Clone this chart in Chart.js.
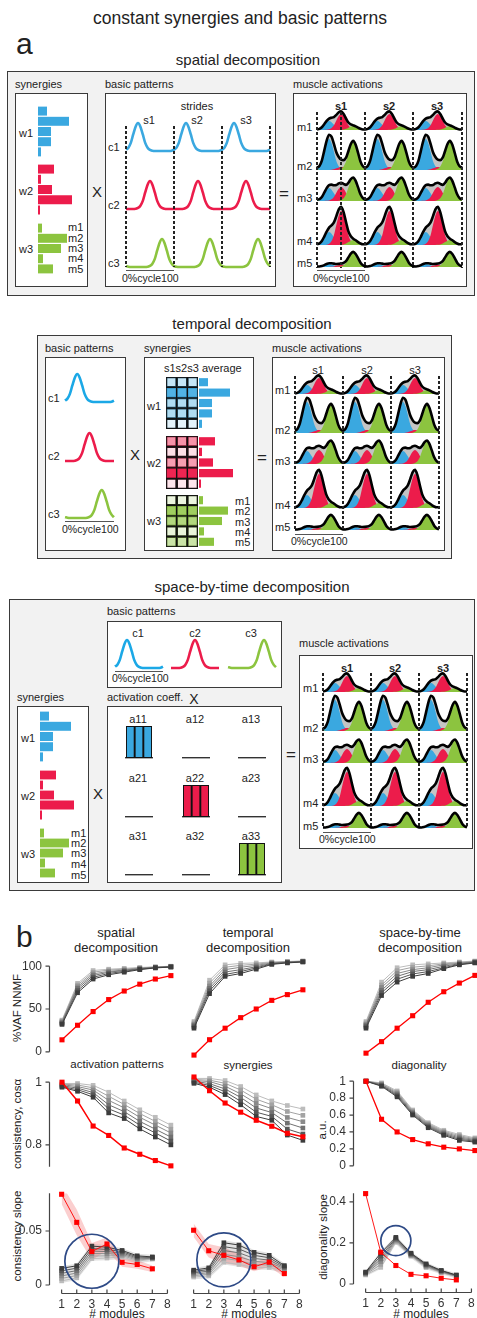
<!DOCTYPE html>
<html>
<head>
<meta charset="utf-8">
<script src="https://cdn.jsdelivr.net/npm/chart.js@4.4.1/dist/chart.umd.min.js"></script>
<style>
body { margin: 0; background: #fff; overflow: hidden; }
#page { position: relative; width: 477px; height: 1318px; overflow: hidden; font-family: "Liberation Sans", Arial, sans-serif; color: #222; }
#page canvas { position: absolute; }
.t { position: absolute; white-space: nowrap; line-height: 1; }
.box { position: absolute; box-sizing: border-box; }
</style>
</head>
<body>
<div id="page"></div>
<script>
"use strict";

// ---------- panel a data ----------
const muscles = ['m1', 'm2', 'm3', 'm4', 'm5'];
const strides = ['s1', 's2', 's3'];
const synW1 = [9, 31, 13, 13, 3];
const synW2 = [16, 3, 14, 34, 2];
const synW3 = [4, 29, 23, 5, 15];
// one stride, sampled every 5% of the cycle
const patC1 = [0.05, 0.12, 0.29, 0.59, 0.87, 1, 0.87, 0.59, 0.29, 0.12, 0.04, 0.01, 0, 0, 0, 0, 0, 0, 0, 0.01];
const patC2 = [0, 0, 0, 0, 0.01, 0.04, 0.12, 0.29, 0.59, 0.87, 1, 0.87, 0.59, 0.29, 0.12, 0.04, 0.01, 0, 0, 0];
const patC3 = [0.03, 0.01, 0, 0, 0, 0, 0, 0, 0, 0.01, 0.04, 0.12, 0.29, 0.59, 0.87, 1, 0.87, 0.59, 0.29, 0.12];
const residual = [0, 0, 0.05, 0.15, 0.35, 0.6, 0.85, 1, 1, 0.9, 0.7, 0.5, 0.3, 0.15, 0.05, 0, 0, 0, 0, 0];
const residualAmp = [3, 7, 4, 5, 1];
const coeff = [[1, 0, 0], [0, 1, 0], [0, 0, 1]];

// ---------- panel b data ----------
const modules = [1, 2, 3, 4, 5, 6, 7, 8];
const vafSpatialRed = [14, 31, 47, 61, 71, 79, 85, 89];
const vafSpatialGray = [
  [37, 80, 95, 96.5, 97.5, 98.5, 99.2, 100],
  [36, 78, 93, 95.5, 96.5, 98, 99, 99.8],
  [35, 76, 91, 94, 95.5, 97.5, 98.8, 99.6],
  [34, 74, 89, 93, 95, 97, 98.5, 99.4],
  [33, 71.5, 87, 91.5, 94, 96.5, 98.2, 99.2],
  [32, 69, 85, 90, 93, 96, 98, 99]
];
const vafTemporalRed = [2, 18, 30, 41, 50, 59, 65, 70];
const vafTemporalGray = [
  [37, 80, 96, 97.5, 98, 99, 99.5, 100],
  [35.5, 77, 93.5, 95.5, 96.7, 98.5, 99.2, 99.8],
  [34, 74, 91, 93.5, 95.4, 98, 99, 99.6],
  [33, 71.5, 88.5, 91, 94, 97.5, 98.7, 99.4],
  [31.5, 69, 86, 89, 92.8, 97, 98.4, 99.2],
  [30, 66, 84, 87, 91.5, 96.5, 98, 99]
];
const vafSbtRed = [4, 16, 30, 43, 57, 68, 77, 85];
const vafSbtGray = [
  [37, 78, 93, 96, 97, 98, 99, 100],
  [35.5, 75, 90, 93.5, 95, 97, 98.4, 99.6],
  [34, 72.5, 87, 91, 93, 96, 97.8, 99.2],
  [33, 69.5, 84, 89, 91, 94.5, 97.2, 98.8],
  [31.5, 67, 81, 86.5, 89, 93, 96.6, 98.4],
  [30, 64, 78, 84, 87, 92, 96, 98]
];
const consActRed = [1.0, 0.94, 0.86, 0.83, 0.79, 0.77, 0.75, 0.733];
const consActGray = [
  [0.996, 0.996, 0.990, 0.968, 0.940, 0.912, 0.888, 0.863],
  [0.994, 0.991, 0.982, 0.955, 0.929, 0.900, 0.875, 0.850],
  [0.992, 0.986, 0.975, 0.942, 0.918, 0.888, 0.863, 0.838],
  [0.989, 0.981, 0.967, 0.928, 0.906, 0.875, 0.850, 0.825],
  [0.986, 0.976, 0.960, 0.915, 0.895, 0.863, 0.838, 0.812],
  [0.984, 0.971, 0.952, 0.902, 0.884, 0.851, 0.825, 0.800]
];
const consSynRed = [1.0, 0.961, 0.926, 0.90, 0.877, 0.86, 0.84, 0.83];
const consSynGray = [
  [0.996, 0.996, 0.990, 0.973, 0.949, 0.932, 0.919, 0.909],
  [0.993, 0.991, 0.982, 0.963, 0.937, 0.921, 0.902, 0.891],
  [0.990, 0.987, 0.974, 0.952, 0.925, 0.910, 0.885, 0.873],
  [0.988, 0.981, 0.966, 0.942, 0.912, 0.899, 0.869, 0.855],
  [0.985, 0.976, 0.958, 0.931, 0.900, 0.888, 0.852, 0.838],
  [0.982, 0.971, 0.950, 0.921, 0.888, 0.877, 0.835, 0.820]
];
const diagRed = [1.0, 0.55, 0.40, 0.31, 0.26, 0.22, 0.20, 0.18];
const diagGray = [
  [1, 0.980, 0.885, 0.660, 0.510, 0.420, 0.370, 0.33],
  [1, 0.972, 0.871, 0.648, 0.498, 0.408, 0.356, 0.32],
  [1, 0.964, 0.857, 0.636, 0.486, 0.396, 0.342, 0.31],
  [1, 0.956, 0.843, 0.624, 0.474, 0.384, 0.328, 0.30],
  [1, 0.948, 0.829, 0.612, 0.462, 0.372, 0.314, 0.29],
  [1, 0.940, 0.815, 0.600, 0.450, 0.360, 0.300, 0.28]
];
const slopeActRed = [0.084, 0.058, 0.031, 0.038, 0.021, 0.019, 0.015];
const slopeActErr = [0.009, 0.012, 0.008, 0.006, 0.004, 0.004, 0.003];
const slopeActGray = [
  [0.0038, 0.0066, 0.0245, 0.025, 0.026, 0.022, 0.024],
  [0.0061, 0.0088, 0.0268, 0.027, 0.0272, 0.023, 0.0244],
  [0.0084, 0.0111, 0.0291, 0.029, 0.0284, 0.024, 0.0248],
  [0.0108, 0.0133, 0.0314, 0.031, 0.0296, 0.025, 0.0252],
  [0.0131, 0.0156, 0.0337, 0.033, 0.0308, 0.026, 0.0256],
  [0.0154, 0.0178, 0.036, 0.035, 0.032, 0.027, 0.026]
];
const slopeSynRed = [0.048, 0.030, 0.026, 0.022, 0.016, 0.020, 0.010];
const slopeSynErr = [0.006, 0.006, 0.007, 0.005, 0.004, 0.004, 0.003];
const slopeSynGray = [
  [0.007, 0.008, 0.020, 0.018, 0.0154, 0.0154, 0.0126],
  [0.0082, 0.0094, 0.0234, 0.0214, 0.018, 0.0175, 0.0135],
  [0.0094, 0.0108, 0.0268, 0.0248, 0.0207, 0.0197, 0.0144],
  [0.0106, 0.0122, 0.0302, 0.0282, 0.0233, 0.0218, 0.0152],
  [0.0118, 0.0136, 0.0336, 0.0316, 0.026, 0.0239, 0.0161],
  [0.013, 0.015, 0.037, 0.035, 0.0286, 0.026, 0.017]
];
const slopeDiagRed = [0.44, 0.155, 0.09, 0.047, 0.04, 0.028, 0.02];
const slopeDiagGray = [
  [0.044, 0.081, 0.203, 0.135, 0.080, 0.055, 0.035],
  [0.047, 0.095, 0.208, 0.138, 0.084, 0.057, 0.037],
  [0.050, 0.109, 0.213, 0.141, 0.087, 0.059, 0.039],
  [0.052, 0.122, 0.217, 0.144, 0.091, 0.062, 0.040],
  [0.055, 0.136, 0.222, 0.147, 0.094, 0.064, 0.042],
  [0.058, 0.150, 0.227, 0.150, 0.098, 0.066, 0.044]
];

// ---------- setup ----------
const BLUE = '#3aa8e0', RED = '#ec1c4b', GREEN = '#8cc43f';
const BLUE_RGB = '58,168,224', RED_RGB = '236,28,75', GREEN_RGB = '140,196,63';
const GRAYS = ['#bcbcbc', '#a3a3a3', '#8a8a8a', '#717171', '#575757', '#3c3c3c'];

Chart.defaults.animation = false;
Chart.defaults.responsive = false;
Chart.defaults.events = [];
Chart.defaults.layout.autoPadding = false;
Chart.defaults.plugins.legend.display = false;
Chart.defaults.plugins.tooltip.enabled = false;
Chart.defaults.font.family = '"Liberation Sans", Arial, sans-serif';
Chart.defaults.color = '#333';

const page = document.getElementById('page');

function T(s, x, y, size, o) {
  o = o || {};
  const d = document.createElement('div');
  d.className = 't';
  d.textContent = s;
  d.style.left = x + 'px';
  d.style.top = y + 'px';
  d.style.fontSize = size + 'px';
  if (o.bold) d.style.fontWeight = 'bold';
  let tr = o.c ? 'translate(-50%,-50%)' : 'translate(0,-50%)';
  if (o.rot) tr = 'translate(-50%,-50%) rotate(-90deg)';
  d.style.transform = tr;
  page.appendChild(d);
}
function box(x1, y1, x2, y2, bg, bw) {
  const d = document.createElement('div');
  d.className = 'box';
  d.style.cssText += `left:${x1}px;top:${y1}px;width:${x2 - x1}px;height:${y2 - y1}px;background:${bg || '#fff'};border:${bw || 1.2}px solid #3a3a3a;`;
  page.appendChild(d);
}
function vdash(x, y1, y2) {
  const d = document.createElement('div');
  d.style.cssText = `position:absolute;left:${x - 0.6}px;top:${y1}px;width:1.2px;height:${y2 - y1}px;background:repeating-linear-gradient(to bottom,#222 0 3px,transparent 3px 5px);z-index:2;`;
  page.appendChild(d);
}
function hline(x1, x2, y) {
  const d = document.createElement('div');
  d.style.cssText = `position:absolute;left:${x1}px;top:${y}px;width:${x2 - x1}px;height:1px;background:#555;`;
  page.appendChild(d);
}
function mkCanvas(left, top, w, h) {
  const c = document.createElement('canvas');
  w = Math.round(w); h = Math.round(h);
  c.width = w; c.height = h;
  c.style.left = left + 'px'; c.style.top = top + 'px';
  c.style.width = w + 'px'; c.style.height = h + 'px';
  c.style.zIndex = 1;
  page.appendChild(c);
  return c;
}
function hidden(min, max, extra) {
  const s = Object.assign({ display: false }, extra || {});
  if (min !== undefined) s.min = min;
  if (max !== undefined) s.max = max;
  return s;
}
function flatChart(x, y, w, h, config, pad) {
  pad = pad == null ? 4 : pad;
  const c = mkCanvas(Math.round(x - pad), Math.round(y - pad), w + 2 * pad, h + 2 * pad);
  config.options = Object.assign({ layout: { padding: pad, autoPadding: false } }, config.options);
  return new Chart(c, config);
}
function strideSeries(pat, n) {
  let out = [];
  for (let s = 0; s < n; s++) out = out.concat(pat);
  out.push(pat[0]);
  return out;
}

// ---------- panel a chart helpers ----------
function patternChart(x, y, w, h, values, color) {
  flatChart(x, y, w, h, {
    type: 'line',
    data: { labels: values.map((_, i) => i), datasets: [{
      data: values, borderColor: color, borderWidth: 2.6, pointRadius: 0,
      cubicInterpolationMode: 'monotone', clip: false, borderJoinStyle: 'round'
    }] },
    options: { scales: { x: hidden(), y: hidden(0, 1) } }
  });
}
function synBars(x, y, h, weights, color, thick) {
  flatChart(x, y, 40, h, {
    type: 'bar',
    data: { labels: muscles, datasets: [{ data: weights, backgroundColor: color, barPercentage: thick, categoryPercentage: 1 }] },
    options: { indexAxis: 'y', scales: { x: hidden(0, 40), y: hidden() } }
  }, 0);
}
function synGrid(x, y, w, h, weights, rgb) {
  const datasets = weights.map(v => ({
    data: strides.map(() => 1),
    backgroundColor: `rgba(${rgb},${Math.min(1, 0.06 + 0.9 * v / 34)})`,
    borderColor: '#111', borderWidth: 1, borderSkipped: false,
    barPercentage: 1, categoryPercentage: 1
  }));
  flatChart(x, y, w, h, {
    type: 'bar',
    data: { labels: strides, datasets },
    options: { scales: { x: hidden(undefined, undefined, { stacked: true }), y: hidden(0, 5, { stacked: true, reverse: true }) } }
  }, 2);
}
function coeffCell(x, y, w, h, v, color) {
  flatChart(x, y, w, h, {
    type: 'bar',
    data: { labels: strides, datasets: [{
      data: strides.map(() => v), backgroundColor: color, borderColor: '#111', borderWidth: 1.3,
      borderSkipped: false, barPercentage: 1, categoryPercentage: 1
    }] },
    options: { scales: {
      x: { display: true, afterFit: s => { s.height = 0; }, grid: { display: false, drawTicks: false }, ticks: { display: false }, border: { display: true, color: '#333', width: 1.4 } },
      y: hidden(0, 1)
    } }
  }, 2);
}
function muscleRow(x, baseY, w, m) {
  const H = 44;
  const b = strideSeries(patC1, 3).map(v => v * synW1[m]);
  const r = strideSeries(patC2, 3).map(v => v * synW2[m]);
  const g = strideSeries(patC3, 3).map(v => v * synW3[m]);
  const e = strideSeries(residual, 3).map(v => v * residualAmp[m]);
  const total = b.map((v, i) => v + r[i] + g[i] + e[i]);
  const area = (data, color) => ({ data, backgroundColor: color, borderWidth: 0, fill: 'origin', pointRadius: 0, cubicInterpolationMode: 'monotone', clip: false });
  flatChart(x, baseY - H, w, H, {
    type: 'line',
    data: { labels: total.map((_, i) => i), datasets: [
      { data: total, borderColor: '#000', borderWidth: 2.6, fill: false, pointRadius: 0, cubicInterpolationMode: 'monotone', clip: false, borderJoinStyle: 'round' },
      area(g, GREEN), area(r, RED), area(b, BLUE), area(total, '#c4c4c4')
    ] },
    options: { scales: { x: hidden(), y: hidden(0, H) } }
  }, 3);
}

// ---------- panel a : spatial ----------
T('constant synergies and basic patterns', 240, 19, 17.5, { c: 1 });
T('a', 16, 44, 30);
T('spatial decomposition', 248, 59, 15, { c: 1 });
box(7, 71, 475, 296, '#f2f2f2', 1.5);
T('synergies', 15, 84, 11); T('basic patterns', 105, 84, 11); T('muscle activations', 293, 84, 11);
box(15, 93, 88, 287); box(105, 93, 276, 287); box(293, 93, 467, 287);
synBars(38, 105.5, 51, synW1, BLUE, 0.88);
synBars(38, 163.5, 51, synW2, RED, 0.88);
synBars(38, 222.5, 51, synW3, GREEN, 0.88);
T('w1', 19, 133, 11); T('w2', 19, 191, 11); T('w3', 19, 249, 11);
[227, 238, 248, 258, 269].forEach((y, i) => T(muscles[i], 68, y, 11));
T('X', 97, 191, 15, { c: 1 }); T('=', 284, 193, 17, { c: 1 });
T('strides', 197, 106, 11, { c: 1 });
[149, 197, 246].forEach((x, i) => T(strides[i], x, 120, 11, { c: 1 }));
T('c1', 108, 147, 11); T('c2', 108, 205, 11); T('c3', 108, 263, 11);
[126, 174, 222, 270].forEach(x => vdash(x, 126, 267));
patternChart(126, 123, 144, 28, strideSeries(patC1, 3), BLUE);
patternChart(126, 181, 144, 28, strideSeries(patC2, 3), RED);
patternChart(126, 239, 144, 28, strideSeries(patC3, 3), GREEN);
hline(126, 174, 270); T('0%cycle100', 122, 278, 10.5);
[341, 389, 437].forEach((x, i) => T(strides[i], x, 106, 11, { c: 1, bold: 1 }));
[127, 166, 198, 241, 263].forEach((y, i) => T(muscles[i], 297, y, 11));
[317, 341, 365, 413, 462].forEach(x => vdash(x, 112, 268));
[130, 170, 201, 245, 267].forEach((y, i) => muscleRow(317, y, 145, i));
hline(317, 365, 270); T('0%cycle100', 313, 278, 10.5);

// ---------- panel a : temporal ----------
T('temporal decomposition', 252, 323, 15, { c: 1 });
box(37, 335, 452, 559, '#f2f2f2', 1.5);
T('basic patterns', 45, 348, 11); T('synergies', 144, 348, 11); T('muscle activations', 272, 348, 11);
box(45, 357, 126, 551); box(144, 357, 254, 551); box(272, 357, 445, 551);
T('c1', 48, 398, 11); T('c2', 48, 456, 11); T('c3', 48, 514, 11);
patternChart(65, 374, 49, 28, strideSeries(patC1, 1), '#1ba8e6');
patternChart(65, 433, 49, 28, strideSeries(patC2, 1), RED);
patternChart(65, 490, 49, 28, strideSeries(patC3, 1), GREEN);
hline(65, 114, 521); T('0%cycle100', 62, 529, 10.5);
T('X', 135, 454, 15, { c: 1 }); T('=', 262, 457, 17, { c: 1 });
T('s1s2s3 average', 164, 368, 11);
synGrid(166, 377, 32, 52, synW1, BLUE_RGB);
synGrid(166, 435.5, 32, 52.5, synW2, RED_RGB);
synGrid(166, 495, 32, 52, synW3, GREEN_RGB);
synBars(199, 377, 52, synW1, BLUE, 0.78);
synBars(199, 435.5, 52.5, synW2, RED, 0.78);
synBars(199, 495, 52, synW3, GREEN, 0.78);
T('w1', 147, 406, 11); T('w2', 147, 463, 11); T('w3', 147, 521, 11);
[501, 511, 522, 532, 542].forEach((y, i) => T(muscles[i], 235, y, 11));
[318, 367, 415].forEach((x, i) => T(strides[i], x, 370, 11, { c: 1 }));
[390, 430, 461, 505, 527].forEach((y, i) => T(muscles[i], 275, y, 11));
[295, 343, 391, 439].forEach(x => vdash(x, 376, 530));
[394, 433, 464, 508, 530].forEach((y, i) => muscleRow(295, y, 144, i));
hline(295, 343, 534); T('0%cycle100', 291, 541, 10.5);

// ---------- panel a : space-by-time ----------
T('space-by-time decomposition', 252, 586, 15, { c: 1 });
box(9, 599, 475, 891, '#f2f2f2', 1.5);
T('basic patterns', 107, 611, 11);
box(107, 621, 282, 688);
[138, 195, 251].forEach((x, i) => T('c' + (i + 1), x, 633, 11, { c: 1 }));
patternChart(115, 640, 48, 28, strideSeries(patC1, 1), '#1ba8e6');
patternChart(171, 640, 48, 28, strideSeries(patC2, 1), RED);
patternChart(228, 640, 48, 28, strideSeries(patC3, 1), GREEN);
hline(115, 163, 671); T('0%cycle100', 112, 678, 10.5);
T('synergies', 17, 697, 11); box(17, 706, 89, 883);
T('activation coeff.', 107, 697, 11); T('X', 194, 699, 14, { c: 1 });
box(107, 706, 282, 883);
synBars(40, 711, 51, synW1, BLUE, 0.88);
synBars(40, 770, 50, synW2, RED, 0.88);
synBars(40, 828, 50, synW3, GREEN, 0.88);
T('w1', 21, 738, 11); T('w2', 21, 796, 11); T('w3', 21, 854, 11);
[833, 843, 853, 864, 875].forEach((y, i) => T(muscles[i], 71, y, 11));
T('X', 98, 793, 15, { c: 1 }); T('=', 291, 754, 17, { c: 1 });
const cellX = [126, 182.5, 239], cellY = [726, 784.5, 843], labX = [138, 195, 251], labY = [719, 778, 836];
const cellColor = [BLUE, RED, GREEN];
coeff.forEach((row, i) => row.forEach((v, j) => {
  T('a' + (i + 1) + (j + 1), labX[j], labY[i], 11, { c: 1 });
  coeffCell(cellX[j], cellY[i], 26, 32, v, cellColor[i]);
}));
T('muscle activations', 299, 643, 11); box(299, 655, 473, 849);
[347, 395, 443].forEach((x, i) => T(strides[i], x, 668, 11, { c: 1, bold: 1 }));
[688, 728, 759, 803, 826].forEach((y, i) => T(muscles[i], 303, y, 11));
[323, 371, 419, 467].forEach(x => vdash(x, 673, 828));
[692, 731, 763, 806, 828].forEach((y, i) => muscleRow(323, y, 144, i));
hline(323, 371, 832); T('0%cycle100', 319, 839, 10.5);

// ---------- panel b ----------
const matAxes = {
  id: 'matAxes',
  afterDraw(chart, args, opts) {
    const { ctx, chartArea: a, scales } = chart;
    ctx.save();
    ctx.strokeStyle = '#444';
    ctx.lineWidth = 1.2;
    ctx.beginPath();
    if (opts.y) {
      const ax = Math.round(a.left) + 0.5;
      ctx.moveTo(ax, a.top); ctx.lineTo(ax, a.bottom);
      scales.y.ticks.forEach(t => {
        const py = scales.y.getPixelForValue(t.value);
        ctx.moveTo(ax - 4, py); ctx.lineTo(ax, py);
      });
    }
    if (opts.x) {
      const yy = Math.round(a.bottom + 8) + 0.5;
      ctx.moveTo(scales.x.getPixelForValue(1), yy); ctx.lineTo(scales.x.getPixelForValue(8), yy);
      scales.x.ticks.forEach(t => {
        const px = scales.x.getPixelForValue(t.value);
        ctx.moveTo(px, yy); ctx.lineTo(px, yy - 4);
      });
    }
    ctx.stroke();
    ctx.restore();
  }
};
function fmt(v) { return String(Math.round(v * 1000) / 1000); }
function pts(ys) { return ys.map((v, j) => ({ x: modules[j], y: v })); }
function grayLines(lines) {
  return lines.map((ys, i) => ({
    data: pts(ys), borderColor: GRAYS[i], borderWidth: 1, pointStyle: 'rect', pointRadius: 3.3,
    pointBorderWidth: 0, pointBackgroundColor: GRAYS[i], order: 2 + (lines.length - i), clip: false
  }));
}
function redLine(ys, bw) {
  return { data: pts(ys), borderColor: '#ff0000', borderWidth: bw || 1.3, pointStyle: 'rect', pointRadius: 3.6,
    pointBorderWidth: 0, pointBackgroundColor: '#ff0000', order: 1, clip: false };
}
function band(lo, hi, color) {
  return [
    { data: pts(hi), borderWidth: 0, pointRadius: 0, fill: '+1', backgroundColor: color, order: 20, clip: false },
    { data: pts(lo), borderWidth: 0, pointRadius: 0, fill: false, order: 21, clip: false }
  ];
}
function grayBand(lines, padv) {
  const lo = lines[0].map((_, j) => Math.min(...lines.map(l => l[j])) - padv);
  const hi = lines[0].map((_, j) => Math.max(...lines.map(l => l[j])) + padv);
  return band(lo, hi, 'rgba(150,150,150,0.28)');
}
function redBand(ys, err) {
  return band(ys.map((v, i) => v - err[i]), ys.map((v, i) => v + err[i]), 'rgba(240,70,70,0.26)');
}
function circle(x, y, r) {
  return { type: 'bubble', data: [{ x, y, r }], borderColor: '#2e4a86', backgroundColor: 'rgba(0,0,0,0)', borderWidth: 1.7, order: 0, clip: false };
}
function plotB(x, y, h, yMin, yMax, yTicks, showY, showX, datasets) {
  const w = 124.5, pad = 9, yW = showY ? 40 : 0, xH = showX ? 30 : 0;
  const c = mkCanvas(Math.round(x - yW - pad), Math.round(y - pad), yW + w + 2 * pad, h + 2 * pad + xH);
  new Chart(c, {
    type: 'line',
    data: { datasets },
    options: {
      layout: { padding: pad, autoPadding: false },
      scales: {
        x: { type: 'linear', min: 0.165, max: 8.2, display: showX,
          afterFit: s => { s.height = xH; },
          afterBuildTicks: s => { s.ticks = modules.map(v => ({ value: v })); },
          grid: { display: false, drawTicks: false }, border: { display: false },
          ticks: { padding: 12, font: { size: 12 }, color: '#333', maxRotation: 0, autoSkip: false } },
        y: { type: 'linear', min: yMin, max: yMax, display: showY,
          afterFit: s => { s.width = yW; },
          afterBuildTicks: s => { s.ticks = yTicks.map(v => ({ value: v })); },
          grid: { display: false, drawTicks: false }, border: { display: false },
          ticks: { padding: 7, font: { size: 12 }, color: '#333', callback: v => fmt(v) } }
      },
      plugins: { matAxes: { x: showX, y: showY } }
    },
    plugins: [matAxes]
  });
}

T('b', 16, 937, 30);
[116, 248, 420].forEach((x, i) => {
  T(['spatial', 'temporal', 'space-by-time'][i], x, 932, 13, { c: 1 });
  T('decomposition', x, 947, 13, { c: 1 });
  T('# modules', x + 1, 1314, 12, { c: 1 });
});
T('activation patterns', 117, 1065, 11.5, { c: 1 });
T('synergies', 248, 1066, 11.5, { c: 1 });
T('diagonality', 419, 1066, 11.5, { c: 1 });
T('%VAF NNMF', 18, 1008, 11.5, { rot: 1 });
T('consistency, cosα', 18, 1124, 11.5, { rot: 1 });
T('consistency slope', 18, 1236, 11.5, { rot: 1 });
T('a.u.', 323, 1130, 11.5, { rot: 1 });
T('diagonality slope', 324, 1237, 11.5, { rot: 1 });

const colX = [49, 181, 353];
// row 1: VAF
plotB(colX[0], 961, 96, 0, 100, [0, 50, 100], true, false, [redLine(vafSpatialRed), ...grayLines(vafSpatialGray)]);
plotB(colX[1], 961, 96, 0, 100, [0, 50, 100], false, false, [redLine(vafTemporalRed), ...grayLines(vafTemporalGray)]);
plotB(colX[2], 961, 96, 0, 100, [0, 50, 100], false, false, [redLine(vafSbtRed), ...grayLines(vafSbtGray)]);
// row 2: consistency / diagonality
plotB(colX[0], 1077, 95, 0.73, 1.0, [0.8, 1], true, false, [redLine(consActRed, 1.5), ...grayLines(consActGray)]);
plotB(colX[1], 1077, 95, 0.73, 1.0, [0.8, 1], false, false, [redLine(consSynRed, 1.5), ...grayLines(consSynGray)]);
plotB(colX[2], 1076, 95, 0, 1, [0, 0.2, 0.4, 0.6, 0.8, 1], true, false, [redLine(diagRed), ...grayLines(diagGray)]);
// row 3: slopes
plotB(colX[0], 1187.5, 96.8, 0, 0.085, [0, 0.05], true, true,
  [circle(3, 0.022, 27), redLine(slopeActRed, 0.9), ...grayLines(slopeActGray), ...redBand(slopeActRed, slopeActErr), ...grayBand(slopeActGray, 0.002)]);
plotB(colX[1], 1187.5, 96.8, 0, 0.085, [0, 0.05], false, true,
  [circle(3, 0.022, 27), redLine(slopeSynRed, 0.9), ...grayLines(slopeSynGray), ...redBand(slopeSynRed, slopeSynErr), ...grayBand(slopeSynGray, 0.002)]);
plotB(colX[2], 1188, 96.3, 0, 0.442, [0, 0.2, 0.4], true, true,
  [circle(3, 0.211, 15), redLine(slopeDiagRed, 0.9), ...grayLines(slopeDiagGray), ...grayBand(slopeDiagGray, 0.008)]);
</script>
</body>
</html>
